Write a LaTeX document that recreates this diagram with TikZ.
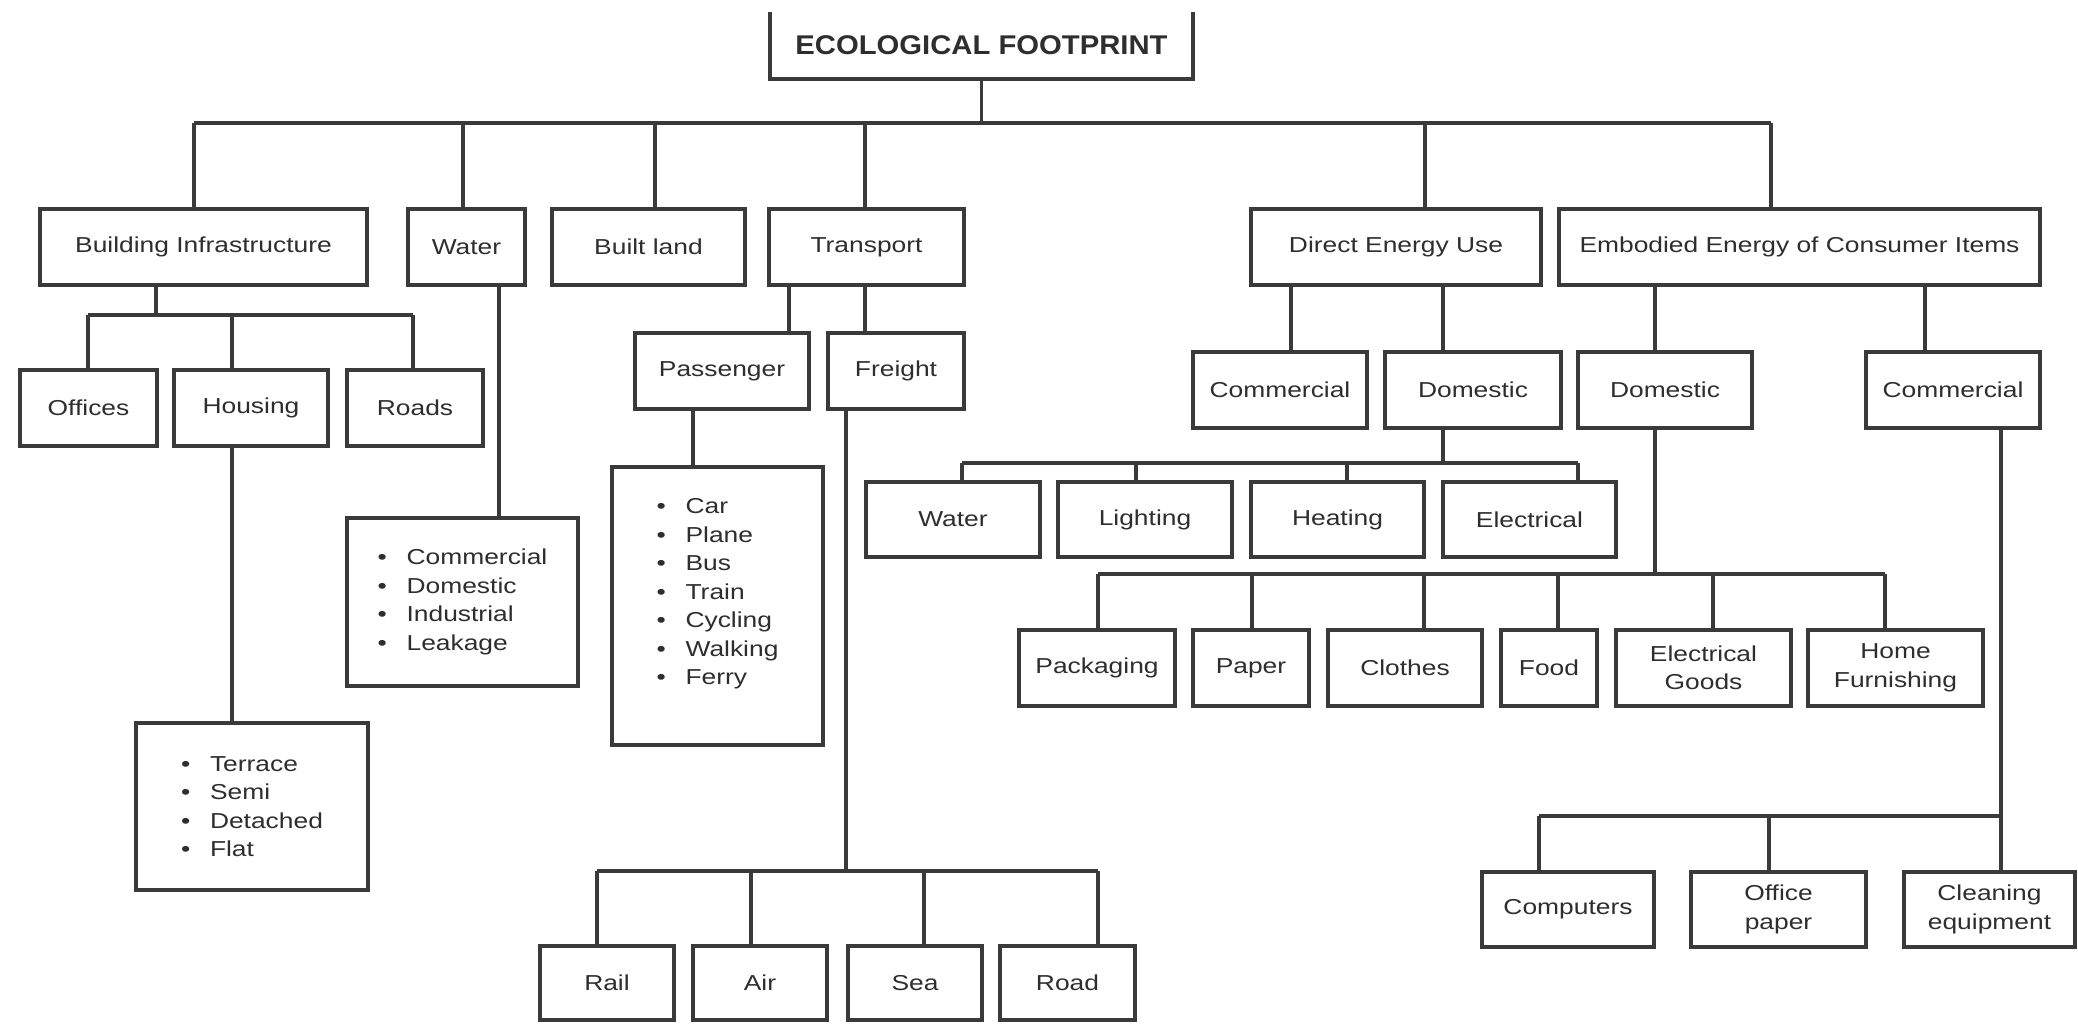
\documentclass[tikz,border=0pt]{standalone}
\usepackage{fontspec}
\setmainfont{Liberation Sans}[FakeStretch=1.22]
\newfontfamily\ttlfont{Liberation Sans}[FakeStretch=1.08]
\definecolor{ink}{HTML}{2E2E2E}
\definecolor{edge}{HTML}{3A3A3A}
\tikzset{
  box/.style={draw=edge, line width=1.1pt, fill=white, inner sep=0pt, outer sep=0pt,
    align=center, text=ink, font=\fontsize{6.15}{8.1}\selectfont},
  listbox/.style={box, align=left},
  ttlbox/.style={inner sep=0pt, outer sep=0pt, text=ink, font=\ttlfont\bfseries\fontsize{7.7}{9}\selectfont},
  ln/.style={draw=edge, line width=0.9pt},
}
\newcommand\bx[7][box]{\node[#1, minimum width={(#5-#3)*0.01cm}, minimum height={(#6-#4)*0.01cm}] (#2) at ({(#3+#5)/2},{(#4+#6)/2}) {#7};}
\newcommand\bul{\makebox[0.29cm][l]{\textbullet}}
\newcommand\drop[3]{\draw[ln] (#1,#2) -- (#3.north -| #1,0);}
\begin{document}
\begin{tikzpicture}[x=0.01cm, y=-0.01cm]
\useasboundingbox[fill=white] (0,0) rectangle (2078,1025);

% title (open at the top)
\bx[ttlbox]{title}{770}{12}{1193}{79}{ECOLOGICAL FOOTPRINT}
\draw[draw=edge, line width=1.1pt] (title.north west) -- (title.south west) -- (title.south east) -- (title.north east);

% level 1
\bx{BI}{40}{209}{367}{285}{Building Infrastructure}
\bx{Wat}{408}{209}{525}{285}{Water}
\bx{BL}{552}{209}{745}{285}{Built land}
\bx{Tr}{769}{209}{964}{285}{Transport}
\bx{DEU}{1251}{209}{1541}{285}{Direct Energy Use}
\bx{Emb}{1559}{209}{2040}{285}{Embodied Energy of Consumer Items}

% building infrastructure branch
\bx{Off}{20}{370}{157}{446}{Offices}
\bx{Hou}{174}{370}{328}{446}{Housing}
\bx{Rds}{347}{370}{483}{446}{Roads}
\bx[listbox]{Ter}{136}{723}{368}{890}{\bul Terrace\\\bul Semi\\\bul Detached\\\bul Flat}

% water branch
\bx[listbox]{WL}{347}{518}{578}{686}{\bul Commercial\\\bul Domestic\\\bul Industrial\\\bul Leakage}

% transport branch
\bx{Pas}{635}{333}{809}{409}{Passenger}
\bx{Fre}{828}{333}{964}{409}{Freight}
\bx[listbox]{PL}{612}{467}{823}{745}{\bul Car\\\bul Plane\\\bul Bus\\\bul Train\\\bul Cycling\\\bul Walking\\\bul Ferry\\\mbox{}}
\bx{Rail}{540}{946}{674}{1020}{Rail}
\bx{Air}{693}{946}{827}{1020}{Air}
\bx{Sea}{848}{946}{982}{1020}{Sea}
\bx{Road}{1000}{946}{1135}{1020}{Road}

% direct energy use branch
\bx{DC}{1193}{352}{1367}{428}{Commercial}
\bx{DD}{1385}{352}{1561}{428}{Domestic}
\bx{Wa2}{866}{482}{1040}{557}{Water}
\bx{Lig}{1058}{482}{1232}{557}{Lighting}
\bx{Hea}{1251}{482}{1424}{557}{Heating}
\bx{Ele}{1443}{482}{1616}{557}{Electrical}

% embodied energy branch
\bx{ED}{1578}{352}{1752}{428}{Domestic}
\bx{EC}{1866}{352}{2040}{428}{Commercial}
\bx{Pac}{1019}{630}{1175}{706}{Packaging}
\bx{Pap}{1193}{630}{1309}{706}{Paper}
\bx{Clo}{1328}{630}{1482}{706}{Clothes}
\bx{Foo}{1501}{630}{1597}{706}{Food}
\bx{EG}{1616}{630}{1791}{706}{Electrical\\Goods}
\bx{HF}{1808}{630}{1983}{706}{Home\\Furnishing}
\bx{Com}{1482}{872}{1654}{947}{Computers}
\bx{OP}{1691}{872}{1866}{947}{Office\\paper}
\bx{Cle}{1904}{872}{2075}{947}{Cleaning\\equipment}

% ---- connectors ----
\coordinate (b0L) at (194,123);
\coordinate (b0R) at (1771,123);
\draw[ln] (title.south) -- (title.south |- b0L);
\draw[ln] (b0L) -- (b0R);
\drop{194}{123}{BI}
\drop{463}{123}{Wat}
\drop{655}{123}{BL}
\drop{865}{123}{Tr}
\drop{1425}{123}{DEU}
\drop{1771}{123}{Emb}

% building infrastructure
\coordinate (b1) at (156,315);
\draw[ln] (BI.south -| b1) -- (b1);
\draw[ln] (88,315) -- (413,315);
\drop{88}{315}{Off}
\drop{232}{315}{Hou}
\drop{413}{315}{Rds}
\draw[ln] (Hou.south -| 232,0) -- (Ter.north -| 232,0);

% water
\draw[ln] (Wat.south -| 499,0) -- (WL.north -| 499,0);

% transport
\draw[ln] (Tr.south -| 789,0) -- (Pas.north -| 789,0);
\draw[ln] (Tr.south -| 865,0) -- (Fre.north -| 865,0);
\draw[ln] (Pas.south -| 693,0) -- (PL.north -| 693,0);
\coordinate (b2) at (846,871);
\draw[ln] (Fre.south -| b2) -- (b2);
\draw[ln] (597,871) -- (1098,871);
\drop{597}{871}{Rail}
\drop{751}{871}{Air}
\drop{924}{871}{Sea}
\drop{1098}{871}{Road}

% direct energy use
\draw[ln] (DEU.south -| 1291,0) -- (DC.north -| 1291,0);
\draw[ln] (DEU.south -| 1443,0) -- (DD.north -| 1443,0);
\coordinate (b3) at (1443,463);
\draw[ln] (DD.south -| b3) -- (b3);
\draw[ln] (962,463) -- (1578,463);
\drop{962}{463}{Wa2}
\drop{1136}{463}{Lig}
\drop{1347}{463}{Hea}
\drop{1578}{463}{Ele}

% embodied energy
\draw[ln] (Emb.south -| 1655,0) -- (ED.north -| 1655,0);
\draw[ln] (Emb.south -| 1925,0) -- (EC.north -| 1925,0);
\coordinate (b4) at (1655,574);
\draw[ln] (ED.south -| b4) -- (b4);
\draw[ln] (1098,574) -- (1885,574);
\drop{1098}{574}{Pac}
\drop{1252}{574}{Pap}
\drop{1424}{574}{Clo}
\drop{1558}{574}{Foo}
\drop{1713}{574}{EG}
\drop{1885}{574}{HF}
\draw[ln] (EC.south -| 2001,0) -- (Cle.north -| 2001,0);
\draw[ln] (1539,816) -- (2001,816);
\drop{1539}{816}{Com}
\drop{1769}{816}{OP}
\end{tikzpicture}
\end{document}
